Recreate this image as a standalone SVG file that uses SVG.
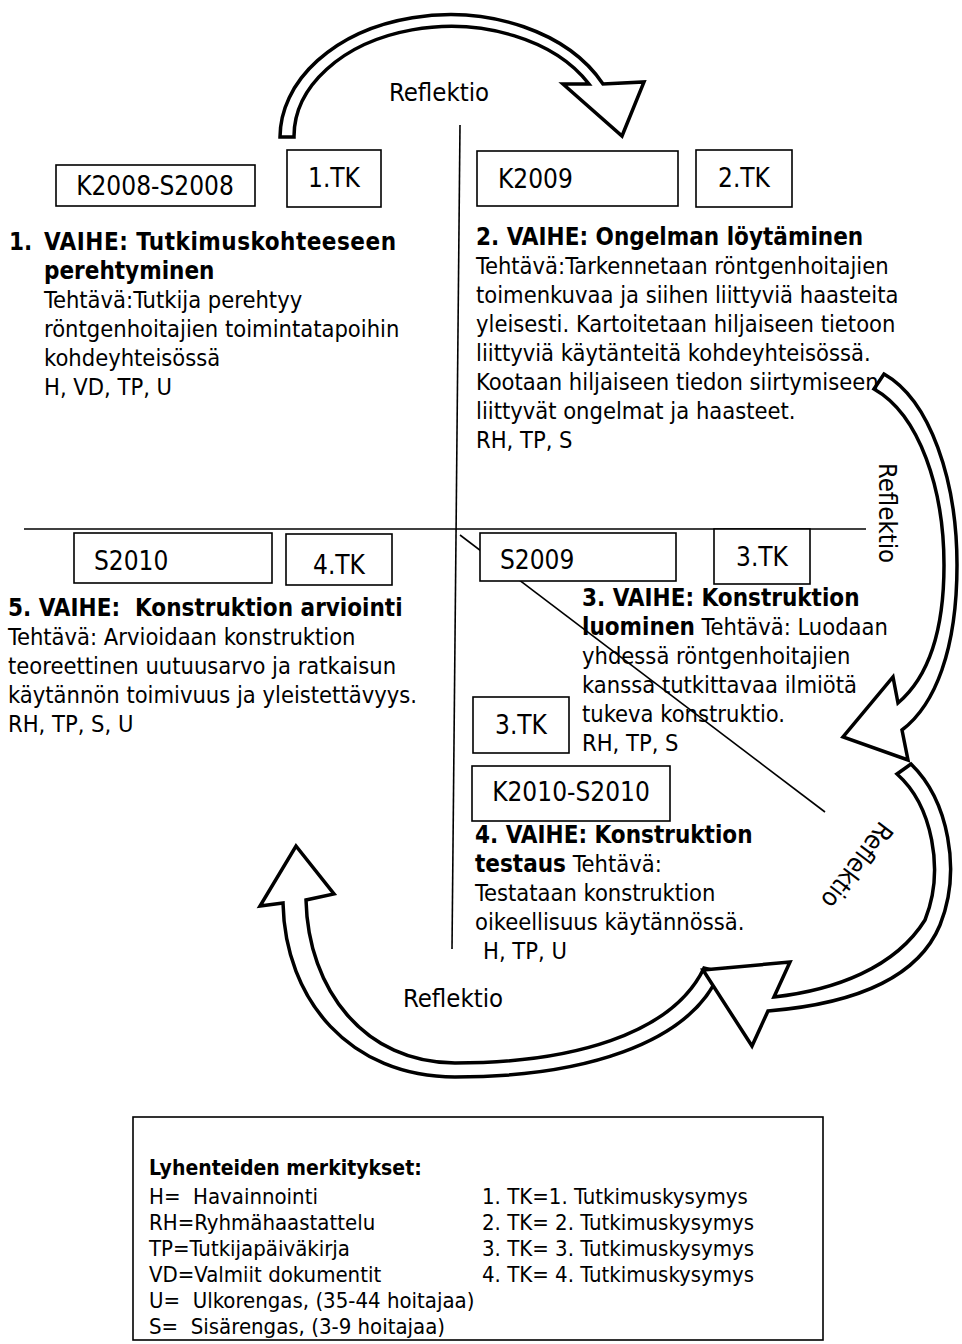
<svg xmlns="http://www.w3.org/2000/svg" width="962" height="1344" viewBox="0 0 962 1344">
  <style>
    .t { font-family: "DejaVu Sans Condensed", "DejaVu Sans", sans-serif; font-stretch: condensed; font-size: 23.5px; fill: #000; }
    .b { font-weight: bold; font-size: 24px; }
    .lbl { font-size: 26px; }
    .refl { font-size: 25.5px; }
    .lg { font-size: 22px; }
    .box { fill: #fff; stroke: #000; stroke-width: 1.6; }
    .axis { stroke: #000; stroke-width: 1.6; fill: none; }
    .arrow { fill: #fff; stroke: #000; stroke-width: 3.5; stroke-linejoin: miter; }
  </style>

  <!-- axes and the diagonal guide -->
  <g id="connectors">
    <line class="axis" x1="460" y1="125" x2="452" y2="949"/>
    <line class="axis" x1="24" y1="529" x2="866" y2="529"/>
    <line class="axis" x1="460" y1="535" x2="825" y2="812"/>
  </g>

  <!-- reflection arrows -->
  <g id="arrows">
    <path id="arrow-top" class="arrow" d="M 280,137 A 170,123 0 0 1 603,84 L 644,82 L 622,136 L 563,84 L 589,84 A 157,110 0 0 0 294,137 Z"/>
    <path id="arrow-right" class="arrow" d="M 884,374 C 930,400 957,480 957,565 C 957,650 935,705 902,730 L 908,760 L 843,737 L 893,677 L 898,703 C 925,680 944,640 944,565 C 944,490 920,415 874,389 Z"/>
    <path id="arrow-bottom" class="arrow" d="M 720,972 C 690,1045 580,1077 455,1077 C 350,1077 285,1000 283,903 L 260,906 L 296,846 L 334,894 L 306,900 C 308,990 365,1063 455,1063 C 570,1063 672,1035 704,968 Z"/>
    <path id="arrow-lower-right" class="arrow" d="M 911,764 C 948,800 962,870 940,925 C 915,985 840,1005 768,1011 L 752,1046 L 703,970 L 790,962 L 774,997 C 835,990 895,968 925,920 C 945,870 932,805 897,774 Z"/>
  </g>

  <g id="reflection-labels" class="t refl">
    <text x="439" y="101" text-anchor="middle">Reflektio</text>
    <text transform="translate(879,513) rotate(90)" text-anchor="middle">Reflektio</text>
    <text transform="translate(850,860) rotate(127)" text-anchor="middle">Reflektio</text>
    <text x="453" y="1007" text-anchor="middle">Reflektio</text>
  </g>

  <!-- period and research-question tags -->
  <g id="box-k2008" class="t lbl">
    <rect class="box" x="56" y="165" width="199" height="41"/>
    <text x="155" y="195" text-anchor="middle">K2008-S2008</text>
  </g>
  <g id="box-tk1" class="t lbl">
    <rect class="box" x="287" y="150" width="94" height="57"/>
    <text x="334" y="187" text-anchor="middle">1.TK</text>
  </g>
  <g id="box-k2009" class="t lbl">
    <rect class="box" x="477" y="151" width="201" height="55"/>
    <text x="498" y="188">K2009</text>
  </g>
  <g id="box-tk2" class="t lbl">
    <rect class="box" x="696" y="150" width="96" height="57"/>
    <text x="744" y="187" text-anchor="middle">2.TK</text>
  </g>
  <g id="box-s2010" class="t lbl">
    <rect class="box" x="74" y="533" width="198" height="50"/>
    <text x="94" y="570">S2010</text>
  </g>
  <g id="box-tk4" class="t lbl">
    <rect class="box" x="286" y="534" width="106" height="51"/>
    <text x="339" y="574" text-anchor="middle">4.TK</text>
  </g>
  <g id="box-s2009" class="t lbl">
    <rect class="box" x="480" y="533" width="196" height="48"/>
    <text x="500" y="569">S2009</text>
  </g>
  <g id="box-tk3a" class="t lbl">
    <rect class="box" x="714" y="529" width="96" height="55"/>
    <text x="762" y="566" text-anchor="middle">3.TK</text>
  </g>
  <g id="box-tk3b" class="t lbl">
    <rect class="box" x="473" y="697" width="96" height="56"/>
    <text x="521" y="734" text-anchor="middle">3.TK</text>
  </g>
  <g id="box-k2010" class="t lbl">
    <rect class="box" x="472" y="766" width="198" height="55"/>
    <text x="571" y="801" text-anchor="middle">K2010-S2010</text>
  </g>

  <!-- phase descriptions -->
  <g id="phase-1" class="t">
    <text x="9" y="250" class="b">1.</text>
    <text x="44" y="250" class="b" textLength="352" lengthAdjust="spacing">VAIHE: Tutkimuskohteeseen</text>
    <text x="44" y="279" class="b">perehtyminen</text>
    <text x="44" y="308">Tehtävä:Tutkija perehtyy</text>
    <text x="44" y="337">röntgenhoitajien toimintatapoihin</text>
    <text x="44" y="366">kohdeyhteisössä</text>
    <text x="44" y="395">H, VD, TP, U</text>
  </g>
  <g id="phase-2" class="t">
    <text x="476" y="245" class="b">2. VAIHE: Ongelman löytäminen</text>
    <text x="476" y="274">Tehtävä:Tarkennetaan röntgenhoitajien</text>
    <text x="476" y="303">toimenkuvaa ja siihen liittyviä haasteita</text>
    <text x="476" y="332">yleisesti. Kartoitetaan hiljaiseen tietoon</text>
    <text x="476" y="361">liittyviä käytänteitä kohdeyhteisössä.</text>
    <text x="476" y="390">Kootaan hiljaiseen tiedon siirtymiseen</text>
    <text x="476" y="419">liittyvät ongelmat ja haasteet.</text>
    <text x="476" y="448">RH, TP, S</text>
  </g>
  <g id="phase-3" class="t">
    <text x="582" y="606" class="b">3. VAIHE: Konstruktion</text>
    <text x="582" y="635"><tspan class="b">luominen</tspan> Tehtävä: Luodaan</text>
    <text x="582" y="664">yhdessä röntgenhoitajien</text>
    <text x="582" y="693">kanssa tutkittavaa ilmiötä</text>
    <text x="582" y="722">tukeva konstruktio.</text>
    <text x="582" y="751">RH, TP, S</text>
  </g>
  <g id="phase-4" class="t">
    <text x="475" y="843" class="b">4. VAIHE: Konstruktion</text>
    <text x="475" y="872"><tspan class="b">testaus</tspan> Tehtävä:</text>
    <text x="475" y="901">Testataan konstruktion</text>
    <text x="475" y="930">oikeellisuus käytännössä.</text>
    <text x="483" y="959">H, TP, U</text>
  </g>
  <g id="phase-5" class="t">
    <text x="8" y="616" class="b" xml:space="preserve">5. VAIHE:  Konstruktion arviointi</text>
    <text x="8" y="645">Tehtävä: Arvioidaan konstruktion</text>
    <text x="8" y="674">teoreettinen uutuusarvo ja ratkaisun</text>
    <text x="8" y="703">käytännön toimivuus ja yleistettävyys.</text>
    <text x="8" y="732">RH, TP, S, U</text>
  </g>

  <!-- abbreviation legend -->
  <g id="legend" class="t lg">
    <rect class="box" x="133" y="1117" width="690" height="223"/>
    <text x="149" y="1175" class="b" style="font-size:21px">Lyhenteiden merkitykset:</text>
    <text x="149" y="1204" xml:space="preserve">H=  Havainnointi</text>
    <text x="149" y="1230">RH=Ryhmähaastattelu</text>
    <text x="149" y="1256">TP=Tutkijapäiväkirja</text>
    <text x="149" y="1282">VD=Valmiit dokumentit</text>
    <text x="149" y="1308" xml:space="preserve">U=  Ulkorengas, (35-44 hoitajaa)</text>
    <text x="149" y="1334" xml:space="preserve">S=  Sisärengas, (3-9 hoitajaa)</text>
    <text x="482" y="1204">1. TK=1. Tutkimuskysymys</text>
    <text x="482" y="1230">2. TK= 2. Tutkimuskysymys</text>
    <text x="482" y="1256">3. TK= 3. Tutkimuskysymys</text>
    <text x="482" y="1282">4. TK= 4. Tutkimuskysymys</text>
  </g>
</svg>
